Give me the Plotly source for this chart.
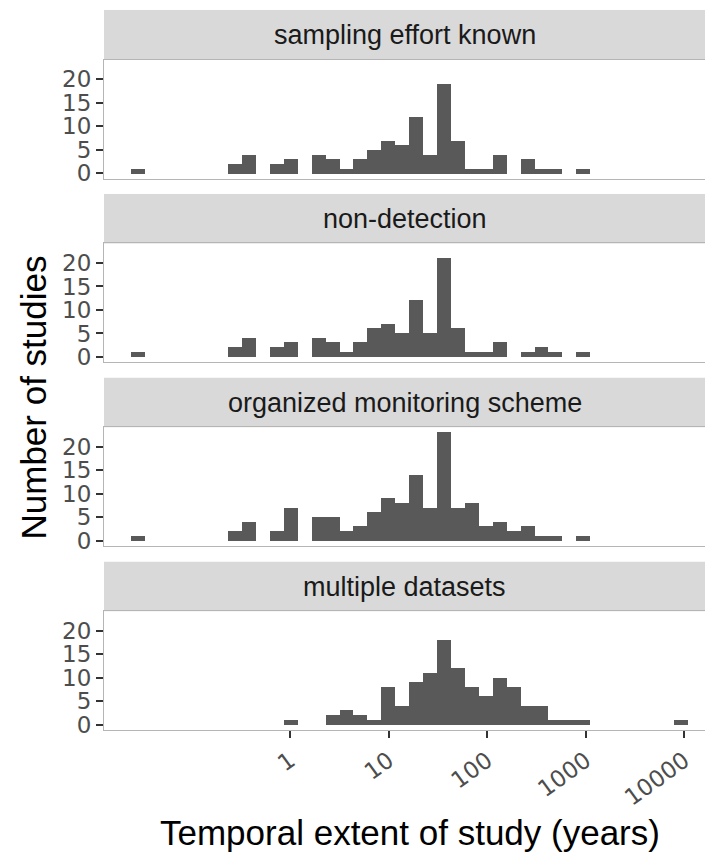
import plotly.graph_objects as go
import math

# ---------------- data ----------------
FACETS = ["sampling effort known", "non-detection",
          "organized monitoring scheme", "multiple datasets"]

# histogram bins on log10(years)
BIN_START_LOG10 = -1.618
BIN_WIDTH_LOG10 = 0.1413
N_BINS = 40

COUNTS_SAMPLING = [1, 0, 0, 0, 0, 0, 0, 2, 4, 0,
                   2, 3, 0, 4, 3, 1, 3, 5, 7, 6,
                   12, 4, 19, 7, 1, 1, 4, 0, 3, 1,
                   1, 0, 1, 0, 0, 0, 0, 0, 0, 0]
COUNTS_NONDETECTION = [1, 0, 0, 0, 0, 0, 0, 2, 4, 0,
                       2, 3, 0, 4, 3, 1, 3, 6, 7, 5,
                       12, 5, 21, 6, 1, 1, 3, 0, 1, 2,
                       1, 0, 1, 0, 0, 0, 0, 0, 0, 0]
COUNTS_ORGANIZED = [1, 0, 0, 0, 0, 0, 0, 2, 4, 0,
                    2, 7, 0, 5, 5, 2, 3, 6, 9, 8,
                    14, 7, 23, 7, 8, 3, 4, 2, 3, 1,
                    1, 0, 1, 0, 0, 0, 0, 0, 0, 0]
COUNTS_MULTIPLE = [0, 0, 0, 0, 0, 0, 0, 0, 0, 0,
                   0, 1, 0, 0, 2, 3, 2, 1, 8, 4,
                   9, 11, 18, 12, 8, 6, 10, 8, 4, 4,
                   1, 1, 1, 0, 0, 0, 0, 0, 0, 1]

X_TICK_YEARS = [1, 10, 100, 1000, 10000]
X_TICK_LABELS = ["1", "10", "100", "1000", "10000"]
Y_TICKS = [0, 5, 10, 15, 20]

X_TITLE = "Temporal extent of study (years)"
Y_TITLE = "Number of studies"

# ---------------- layout constants ----------------
W, H = 705, 852
ML = 104
FONT = "Liberation Sans, Arial, Helvetica, sans-serif"
TICKFONT = "DejaVu Sans, Liberation Sans, sans-serif"
XRANGE = [-1.888, 4.209]
YRANGE = [-1.15, 24.15]
BAR_COLOR = "#595959"
STRIP_FILL = "#D9D9D9"
BORDER = "#B5B5B5"

centers = [BIN_START_LOG10 + (i + 0.5) * BIN_WIDTH_LOG10 for i in range(N_BINS)]
series = [COUNTS_SAMPLING, COUNTS_NONDETECTION, COUNTS_ORGANIZED, COUNTS_MULTIPLE]


def py(px):
    return 1 - px / H


fig = go.Figure()
shapes = []
annotations = []

for k, (name, counts) in enumerate(zip(FACETS, series)):
    strip_top = 10 + 183.9 * k
    panel_top = strip_top + 49.5
    panel_bot = strip_top + 168.5
    idx = "" if k == 0 else str(k + 1)
    xa = "x" + idx
    ya = "y" + idx
    fig.add_trace(go.Bar(x=centers, y=counts, width=BIN_WIDTH_LOG10,
                         marker=dict(color=BAR_COLOR, line=dict(width=0)),
                         xaxis=xa, yaxis=ya, showlegend=False,
                         hoverinfo="skip"))
    last = (k == 3)
    xaxis = dict(domain=[0, 1], range=XRANGE, anchor=ya,
                 showgrid=False, zeroline=False,
                 showline=True, mirror=True, linecolor=BORDER, linewidth=1,
                 automargin=False, fixedrange=True)
    if last:
        xaxis.update(tickvals=[math.log10(v) for v in X_TICK_YEARS],
                     ticktext=X_TICK_LABELS, ticks="outside", ticklen=7,
                     tickwidth=2, tickcolor="#333333", tickangle=-36,
                     tickfont=dict(family=TICKFONT, size=23, color="#4D4D4D"))
    else:
        xaxis.update(showticklabels=False, ticks="")
    yaxis = dict(domain=[py(panel_bot), py(panel_top)], range=YRANGE,
                 anchor=xa, showgrid=False, zeroline=False,
                 showline=True, linecolor=BORDER, linewidth=1,
                 tickvals=Y_TICKS, ticks="outside", ticklen=7, tickwidth=2,
                 tickcolor="#333333",
                 tickfont=dict(family=TICKFONT, size=23, color="#4D4D4D"),
                 automargin=False, fixedrange=True)
    fig.update_layout(**{("xaxis" + idx): xaxis, ("yaxis" + idx): yaxis})

    shapes.append(dict(type="rect", xref="paper", yref="paper",
                       x0=0, x1=1, y0=py(panel_top), y1=py(strip_top),
                       fillcolor=STRIP_FILL, line=dict(width=0), layer="below"))
    annotations.append(dict(text=name, xref="paper", yref="paper",
                            x=0.5, y=py(strip_top + 25.5), xanchor="center",
                            yanchor="middle", showarrow=False,
                            font=dict(family=FONT, size=27, color="#1A1A1A")))

annotations.append(dict(text=X_TITLE, xref="paper", yref="paper",
                        x=(410 - ML) / (W - ML), y=py(832),
                        xanchor="center", yanchor="middle", showarrow=False,
                        font=dict(family=FONT, size=35, color="black")))
annotations.append(dict(text=Y_TITLE, xref="paper", yref="paper",
                        x=(33 - ML) / (W - ML), y=py(397.5), textangle=-90,
                        xanchor="center", yanchor="middle", showarrow=False,
                        font=dict(family=FONT, size=35, color="black")))

fig.update_layout(width=W, height=H, autosize=False, template="none",
                  margin=dict(l=ML, r=0, t=0, b=0, pad=0),
                  paper_bgcolor="white", plot_bgcolor="rgba(0,0,0,0)",
                  bargap=0, showlegend=False,
                  font=dict(family=FONT),
                  shapes=shapes, annotations=annotations)

fig.write_html("out.html", config={"displayModeBar": False})
